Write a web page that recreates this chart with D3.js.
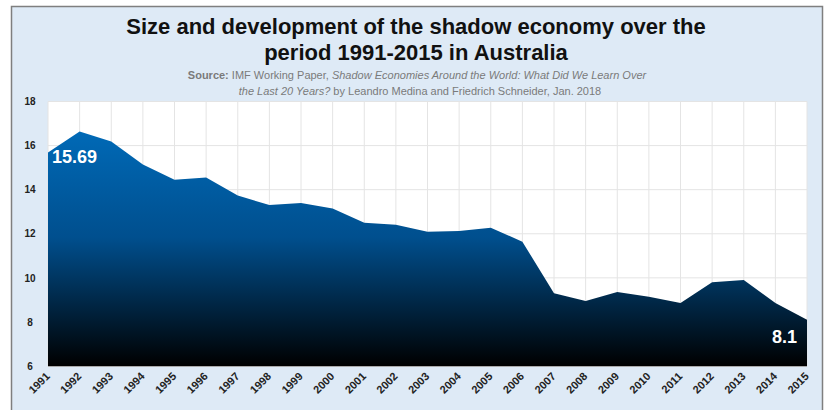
<!DOCTYPE html>
<html>
<head>
<meta charset="utf-8">
<script src="https://cdn.jsdelivr.net/npm/d3@7"></script>
<style>
  body { margin: 0; background: #ffffff; }
  svg text { font-family: "Liberation Sans", Arial, sans-serif; }
</style>
</head>
<body>
<script>
// data
const years = ["1991","1992","1993","1994","1995","1996","1997","1998","1999","2000",
               "2001","2002","2003","2004","2005","2006","2007","2008","2009","2010",
               "2011","2012","2013","2014","2015"];
const values = [15.69, 16.64, 16.18, 15.14, 14.45, 14.55, 13.73, 13.3, 13.4, 13.14,
                12.5, 12.41, 12.09, 12.12, 12.27, 11.64, 9.3, 8.95, 9.36, 9.14,
                8.86, 9.8, 9.9, 8.86, 8.1];
const yTicks = [6, 8, 10, 12, 14, 16, 18];

const w = 827, h = 410;
const pLeft = 48, pRight = 807, pTop = 101.5, pBottom = 366;

const svg = d3.select("body").append("svg")
  .attr("width", w)
  .attr("height", h);

// panel
svg.append("rect")
  .attr("x", 11.5).attr("y", 6.5)
  .attr("width", 811).attr("height", 420)
  .attr("fill", "#deeaf6")
  .attr("stroke", "#7f7f7f")
  .attr("stroke-width", 1.5);

// title
const title = svg.append("text")
  .attr("text-anchor", "middle")
  .attr("font-size", 22)
  .attr("font-weight", "bold")
  .attr("fill", "#111");
title.append("tspan").attr("x", 416).attr("y", 34)
  .text("Size and development of the shadow economy over the");
title.append("tspan").attr("x", 416).attr("y", 60)
  .text("period 1991-2015 in Australia");

// source lines
const src1 = svg.append("text")
  .attr("x", 417).attr("y", 79)
  .attr("text-anchor", "middle")
  .attr("font-size", 11)
  .attr("fill", "#7a7a7a");
src1.append("tspan").attr("font-weight", "bold").text("Source:");
src1.append("tspan").text(" IMF Working Paper, ");
src1.append("tspan").attr("font-style", "italic").text("Shadow Economies Around the World: What Did We Learn Over");

const src2 = svg.append("text")
  .attr("x", 420).attr("y", 95)
  .attr("text-anchor", "middle")
  .attr("font-size", 11)
  .attr("fill", "#7a7a7a");
src2.append("tspan").attr("font-style", "italic").text("the Last 20 Years?");
src2.append("tspan").text(" by Leandro Medina and Friedrich Schneider, Jan. 2018");

// scales
const x = d3.scalePoint().domain(years).range([pLeft, pRight]);
const y = d3.scaleLinear().domain([6, 18]).range([pBottom, pTop]);

// plot background
svg.append("rect")
  .attr("x", pLeft).attr("y", pTop)
  .attr("width", pRight - pLeft).attr("height", pBottom - pTop)
  .attr("fill", "#ffffff");

// grid
const grid = svg.append("g").attr("stroke", "#e4e4e4").attr("stroke-width", 1);
grid.selectAll(".vg").data(years).enter().append("line")
  .attr("x1", d => x(d)).attr("x2", d => x(d))
  .attr("y1", pTop).attr("y2", pBottom);
grid.selectAll(".hg").data(yTicks).enter().append("line")
  .attr("x1", pLeft).attr("x2", pRight)
  .attr("y1", d => y(d)).attr("y2", d => y(d));

// gradient
const defs = svg.append("defs");
const grad = defs.append("linearGradient")
  .attr("id", "fillGrad")
  .attr("gradientUnits", "userSpaceOnUse")
  .attr("x1", 0).attr("x2", 0)
  .attr("y1", y(16.6)).attr("y2", pBottom);
grad.append("stop").attr("offset", "0%").attr("stop-color", "#0069b6");
grad.append("stop").attr("offset", "45%").attr("stop-color", "#004f8e");
grad.append("stop").attr("offset", "100%").attr("stop-color", "#000000");

const area = d3.area()
  .x((d, i) => x(years[i]))
  .y0(pBottom)
  .y1(d => y(d));

svg.append("path")
  .datum(values)
  .attr("d", area)
  .attr("fill", "url(#fillGrad)");

// bottom axis line
svg.append("line")
  .attr("x1", pLeft).attr("x2", pRight)
  .attr("y1", pBottom + 0.5).attr("y2", pBottom + 0.5)
  .attr("stroke", "#aaa");

// axes
const yAxis = svg.append("g")
  .attr("transform", "translate(" + pLeft + ",0)")
  .call(d3.axisLeft(y).tickValues(yTicks).tickSize(0).tickPadding(14));
yAxis.select(".domain").remove();
yAxis.selectAll("text")
  .attr("font-size", 10)
  .attr("font-weight", "bold")
  .attr("fill", "#222")
  .attr("text-anchor", "middle")
  .attr("x", -18);

const xAxis = svg.append("g")
  .attr("transform", "translate(0," + pBottom + ")")
  .call(d3.axisBottom(x).tickSize(0));
xAxis.select(".domain").remove();
xAxis.selectAll("text")
  .attr("font-size", 11)
  .attr("font-weight", "bold")
  .attr("fill", "#222")
  .attr("text-anchor", "end")
  .attr("dy", null)
  .attr("y", 0)
  .attr("transform", "translate(2,11) rotate(-45)");

// value labels
svg.append("text")
  .attr("x", x(years[0]) + 4)
  .attr("y", y(values[0]) + 11)
  .attr("font-size", 18)
  .attr("font-weight", "bold")
  .attr("fill", "#ffffff")
  .text(values[0]);

svg.append("text")
  .attr("x", x(years[years.length - 1]) - 10)
  .attr("y", y(values[values.length - 1]) + 23)
  .attr("text-anchor", "end")
  .attr("font-size", 18)
  .attr("font-weight", "bold")
  .attr("fill", "#ffffff")
  .text(values[values.length - 1]);
</script>
</body>
</html>
